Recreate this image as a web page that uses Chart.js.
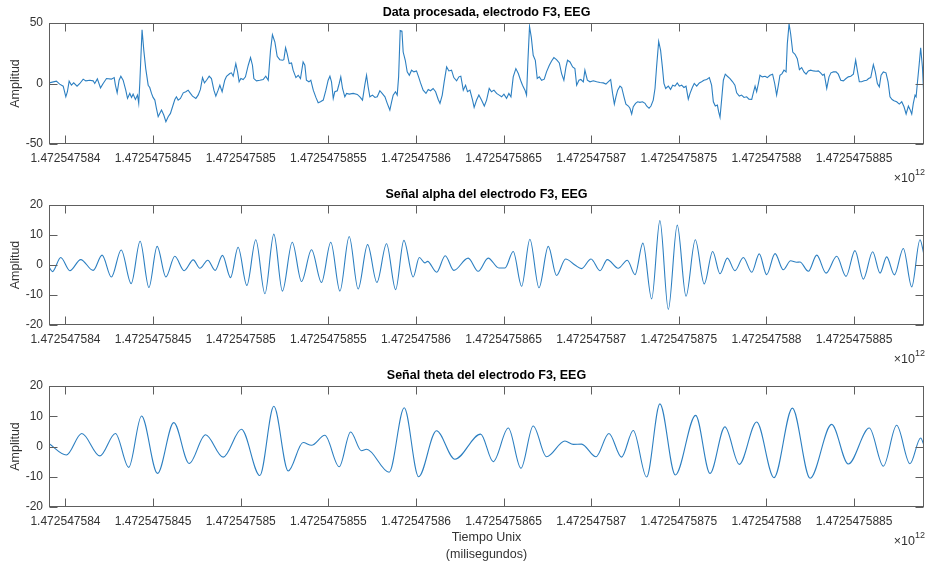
<!DOCTYPE html>
<html>
<head>
<meta charset="utf-8">
<script src="https://cdn.jsdelivr.net/npm/chart.js@4.4.1/dist/chart.umd.min.js"></script>
<style>
  body { margin: 0; background: #fff; }
  canvas { position: absolute; left: 0; }
</style>
</head>
<body>
<canvas id="cruda" width="925" height="185" style="top:0px"></canvas>
<canvas id="alpha" width="925" height="180" style="top:185px"></canvas>
<canvas id="theta" width="925" height="197" style="top:365px"></canvas>
<script>
// tiempo base (ms unix) del primer tick
const T0 = 1472547584000;
const xMin = T0 - 94;
const xMax = T0 + 4899;
const ticksTiempo = [0, 500, 1000, 1500, 2000, 2500, 3000, 3500, 4000, 4500];

// Data procesada (ms desde T0, amplitud)
const tCruda = [-93, -52, -33, -13, 2, 11, 21, 34, 47, 66, 82, 101, 116, 139, 158, 167, 182, 200, 215, 234, 262, 278, 285, 295, 306, 316, 329, 344, 354, 367, 377, 386, 399, 411, 418, 424, 437, 447, 458, 472, 481, 491, 500, 510, 519, 529, 538, 548, 561, 573, 586, 599, 611, 624, 633, 643, 656, 672, 687, 700, 713, 725, 744, 757, 770, 782, 793, 805, 820, 833, 847, 858, 871, 881, 894, 909, 919, 938, 947, 957, 972, 982, 991, 1001, 1014, 1027, 1043, 1056, 1067, 1075, 1090, 1109, 1128, 1143, 1157, 1170, 1181, 1195, 1208, 1223, 1239, 1246, 1256, 1265, 1277, 1290, 1299, 1315, 1328, 1341, 1356, 1366, 1375, 1389, 1400, 1414, 1429, 1442,
  1455, 1471, 1486, 1499, 1509, 1518, 1528, 1537, 1551, 1562, 1571, 1581, 1594, 1604, 1619, 1642, 1665, 1680, 1695, 1708, 1718, 1727, 1737, 1752, 1766, 1779, 1794, 1807, 1823, 1836, 1851, 1861, 1870, 1883, 1893, 1901, 1910, 1920, 1927, 1939, 1950, 1962, 1975, 1988, 2003, 2015, 2026, 2041, 2057, 2070, 2083, 2098, 2112, 2127, 2137, 2150, 2161, 2175, 2188, 2203, 2216, 2232, 2245, 2256, 2270, 2283, 2294, 2308, 2323, 2332, 2346, 2359, 2374, 2390, 2403, 2418, 2431, 2445, 2460, 2475, 2489, 2502, 2517, 2530, 2542, 2555, 2570, 2584, 2597, 2608, 2622, 2631, 2639, 2648, 2658, 2669, 2681, 2692, 2704, 2717, 2732, 2745, 2761, 2774, 2787, 2802, 2818, 2831, 2844, 2856, 2865, 2879, 2894, 2907, 2917, 2930, 2941, 2955, 2964, 2978, 2993, 3012, 3031, 3050,
  3069, 3084, 3097, 3111, 3122, 3132, 3141, 3151, 3164, 3174, 3187, 3198, 3212, 3221, 3231, 3240, 3253, 3265, 3278, 3293, 3307, 3316, 3330, 3341, 3354, 3364, 3373, 3385, 3396, 3406, 3415, 3425, 3440, 3453, 3465, 3478, 3491, 3503, 3516, 3529, 3541, 3554, 3564, 3577, 3588, 3602, 3617, 3630, 3643, 3659, 3674, 3687, 3697, 3708, 3720, 3727, 3735, 3744, 3754, 3765, 3777, 3792, 3807, 3820, 3830, 3845, 3858, 3872, 3887, 3900, 3916, 3925, 3935, 3944, 3954, 3963, 3976, 3992, 4005, 4020, 4035, 4047, 4058, 4068, 4077, 4089, 4100, 4112, 4119, 4129, 4138, 4150, 4163, 4176, 4188, 4201, 4214, 4226, 4239, 4252, 4268, 4283, 4296, 4309, 4321, 4330, 4344, 4357, 4368, 4382, 4397, 4410, 4424, 4439, 4454, 4467, 4481, 4496, 4509, 4519, 4530, 4543, 4557, 4572, 4583, 4595, 4610, 4621, 4633, 4644, 4654, 4667, 4682, 4694, 4705, 4717, 4728, 4743, 4758, 4772, 4785, 4797, 4810, 4819, 4829, 4838, 4848, 4854, 4861, 4871, 4880, 4890, 4899];
const vCruda = [0.5, 1.9, -0.5, -2.2, -11, -6.8, 1.9, -1.4, 0.5, -2.2, 0, 3.6, 2.2, 2.7, 2.2, 0, 3.8, -3.6, 0, 4.1, 3.6, 4.9, -1.4, -7.7, 2.7, 6.0, 2.7, -5.5, -12.3, -8.2, -11.5, -8.8, -13.2, -9.6, -16.4, 0, 44.4, 27.4, 12.3, -1.4, -3.3, -8.2, -11.5, -13.7, -20.5, -27.4, -24.7, -21.9, -26, -31.5, -27.4, -24.7, -19.2, -13.2, -11, -13.7, -12.3, -7.7, -6.8, -5.5, -8.2, -10.4, -12.3, -9.6, -4.9, 4.9, 0.5, 2.7, 6.0, 4.1, -5.5, -10.4, -5.5, -1.4, -6.8, 2.7, 6.0, 8.2, 8.8, 6.0, 16.4, 9.6, 1.4, 4.1, 3.3, 5.5, 15.1, 21.4, 15.1, 4.1, 2.2, 2.7, 3.3, 6.0, 2.7, 27.4, 40.3, 34.2, 22.5, 19.7, 19.2, 19.7, 29.6, 24.7, 16.4, 16.9, 11, 4.9, 6.8, 4.1, 17.8, 15.1, 2.7, 1.4, 2.7, -5.5, -11.5, -15.9,
  -15.1, -13.7, -5.5, 2.7, 6.0, 1.4, -12.3, -6.8, -6.0, 0, 5.5, -4.1, -11, -8.2, -8.8, -8.2, -9.0, -11, -13.7, -1.4, 6.8, -2.7, -11, -9.6, -11.5, -11, -6.0, -8.2, -11, -16.4, -21.9, -15.1, -9.6, -6.8, -9.6, 5.5, 43.8, 43.3, 26, 19.2, 9.6, 6.8, 11, 9.6, 10.4, 5.5, 0.5, -5.5, -8.2, -4.9, -6.0, -4.1, -6.8, -13.2, -16.4, -9.6, 1.4, 13.7, 10.4, 11, 4.9, 2.2, 5.5, 6.0, -5.5, -1.4, -6.8, -5.5, -13.7, -19.7, -13.7, -9.6, -13.7, -18.6, -13.7, -4.1, -6.8, -5.5, -8.2, -9.6, -11, -8.8, -12.3, -8.2, -11, 5.5, 12.3, 8.2, 2.7, -1.4, -5.5, -9.6, 19.2, 47.1, 38.4, 23.3, 19.2, 4.1, 5.5, 2.7, 3.6, 9.6, 15.1, 18.6, 21.4, 19.7, 17, 8.2, 2.7, 13.7, 19.2, 17.8, 13.7, 12.3, -1.4, 2.7, 3.3, 1.4, 11, 2.7, 1.4, 2.2, 1.4, 0.8,
  0.5, -0.5, 1.4, 3.3, -8.2, -17, -11, -5.5, -2.2, -3.3, -11, -17, -18.6, -20.5, -25.2, -19.2, -16.4, -15.1, -15.6, -15.1, -16.4, -18.6, -20.5, -18.6, -13.7, -4.1, 13.7, 34.8, 27.4, 13.7, 0, -4.1, -2.2, -4.9, -1.4, -2.2, 0.5, -2.2, -1.4, -3.3, -2.2, -12.9, -8.2, -3.3, 0, -2.2, 0.5, 1.4, 2.7, 3.3, 4.9, -1.4, -15.1, -18.6, -17.8, -23.3, -27.9, -13.7, 2.7, 7.7, 6.0, 4.1, 1.4, -1.4, -7.7, -10.4, -9.6, -11.5, -11, -12.9, -13.2, -7.7, -2.2, -6.8, 0, 6.8, 5.5, 6.0, 4.9, 6.8, 7.7, 0, -9.6, -1.4, 6.8, 8.2, 11, 9.6, 32.9, 49.3, 41.1, 26, 24.1, 20.5, 11.5, 13.2, 9.6, 7.7, 10.4, 11, 10.4, 10.1, 10.4, 8.8, 6.8, 7.7, -4.1, 5.5, 8.8, 9.6, 9.6, 7.7, 2.7, 2.2, 4.1, 5.5, 6.0, 7.7, 19.2, 10.4, 1.4, 1.4, 2.2, 2.7, 4.1, 4.9, 15.6, 9.6, 0, -2.7, 6.8, 9.6, 8.8, 1.4, -11, -13.2, -14.2, -15.1, -17, -15.1, -19.2, -25.2, -18.6, -21.4, -25.2, -16.4, -9.6, -11, 0, 15.1, 29.6, 13.7, -13.7];

// Señal alpha: picos y valles leidos
const tAlpha = [-93, -74, -27, 25, 87, 158, 209, 262, 318, 375, 426, 476, 523, 573, 624, 677, 729, 767, 812, 854, 896, 942, 985, 1035, 1086, 1138, 1189, 1238, 1294, 1347, 1404,
  1461, 1514, 1566, 1619, 1670, 1724, 1777, 1832, 1884, 1931, 1984, 2019, 2051, 2066, 2118, 2167, 2216, 2298, 2355, 2412, 2473, 2508, 2555, 2603, 2650, 2702, 2755, 2802, 2854, 2907, 2945, 2999, 3050,
  3092, 3154, 3206, 3250, 3295, 3345, 3392, 3440, 3491, 3541, 3594, 3645, 3693, 3735, 3777, 3820, 3868, 3916, 3959, 4001, 4049, 4096, 4138, 4172, 4191, 4239, 4287, 4340, 4401, 4454, 4505, 4553, 4606, 4648, 4686, 4730, 4781, 4829, 4876, 4899];
const vAlpha = [-0.7, -2.2, 2.5, -1.9, 1.8, -1.8, 3.3, -4.0, 5.0, -6.2, 7.9, -7.5, 6.2, -4.0, 2.9, -1.9, 1.7, -1.1, 1.6, -1.8, 3.2, -4.2, 5.9, -6.8, 8.4, -9.6, 10.3, -8.7, 7.6, -5.5, 5.1,
  -5.8, 7.6, -8.7, 9.5, -8.0, 6.8, -5.8, 7.1, -8.2, 8.2, -4.0, 2.5, 0.7, 1.2, -2.4, 3.1, -1.8, 2.3, -2.1, 2.3, -1.0, -1.0, 4.5, -7.1, 8.6, -7.6, 6.2, -3.5, 2.0, 0.0, -1.2, 2.0, -1.9,
  1.8, -1.1, 1.6, -3.2, 7.3, -11.3, 14.8, -14.8, 13.3, -10.4, 8.4, -6.3, 4.5, -2.9, 2.3, -1.9, 2.5, -2.4, 3.7, -3.2, 3.8, -1.6, 1.4, 0.9, 1.0, -2.1, 3.3, -2.7, 2.9, -3.8, 4.8, -4.7, 4.4, -2.7, 2.7, -3.3, 5.5, -7.3, 8.4, 3.4];

// Señal theta: picos y valles leidos
const tTheta = [-93, 5, 93, 196, 285, 361, 434, 525, 618, 706, 799, 900, 1004, 1109, 1189, 1271, 1356,
  1404, 1480, 1562, 1627, 1689, 1718, 1847, 1933, 2015, 2117, 2222, 2369, 2441, 2527, 2599, 2669, 2745, 2850, 2898, 2945, 3027,
  3101, 3173, 3240, 3316, 3392, 3480, 3596, 3678, 3763, 3845, 3944, 4043, 4148, 4249, 4372, 4467, 4587, 4667, 4743, 4819, 4880, 4899];
const vTheta = [0.9, -2.8, 4.3, -3.1, 4.3, -6.9, 10.1, -8.9, 7.9, -5.6, 3.9, -3.5, 5.7, -9.6, 13.3, -8.1, 1.3,
  0.4, 3.7, -6.7, 4.8, -1.4, -0.9, -8.5, 12.8, -10.0, 5.2, -4.2, 4.1, -5.0, 6.1, -7.2, 6.8, -3.4, 1.8, 0.7, 0.8, -3.4,
  4.3, -3.5, 5.3, -10.1, 14.1, -9.4, 10.3, -8.9, 6.5, -5.9, 8.1, -10.3, 12.7, -10.5, 7.3, -5.8, 6.1, -6.5, 7.0, -5.7, 2.8, 0.4];

const ticksY1 = [-50, 0, 50];
const ticksY2 = [-20, -10, 0, 10, 20];

const COLOR_LINEA = '#2c7fc1';
const COLOR_TEXTO = '#333333';
const COLOR_CAJA = '#5e5e5e';
const FUENTE = '"Liberation Sans", Arial, sans-serif';

Chart.defaults.font.family = FUENTE;

// cajas, ticks interiores, titulos y etiquetas al estilo matlab
const decorMatlab = {
  id: 'decorMatlab',
  afterDraw(chart, args, opts) {
    const { ctx, chartArea: a, scales } = chart;
    const L = Math.round(a.left) + 0.5, R = Math.round(a.right) - 0.5;
    const T = Math.round(a.top) + 0.5, B = Math.round(a.bottom) - 0.5;
    ctx.save();
    ctx.strokeStyle = COLOR_CAJA;
    ctx.lineWidth = 1;
    ctx.strokeRect(L, T, R - L, B - T);
    ctx.beginPath();
    const lt = 8;
    scales.x.ticks.forEach((tk) => {
      const px = Math.round(scales.x.getPixelForValue(tk.value)) + 0.5;
      ctx.moveTo(px, B); ctx.lineTo(px, B - lt);
      ctx.moveTo(px, T); ctx.lineTo(px, T + lt);
    });
    scales.y.ticks.forEach((tk) => {
      const py = Math.round(scales.y.getPixelForValue(tk.value)) + 0.5;
      ctx.moveTo(L, py); ctx.lineTo(L + lt, py);
      ctx.moveTo(R, py); ctx.lineTo(R - lt, py);
    });
    ctx.stroke();

    const cx = (a.left + a.right) / 2;
    ctx.fillStyle = '#000';
    ctx.textAlign = 'center';
    ctx.textBaseline = 'middle';
    ctx.font = 'bold 12.5px ' + FUENTE;
    ctx.fillText(opts.titulo, cx, a.top - 10);

    ctx.fillStyle = COLOR_TEXTO;
    ctx.font = '12.5px ' + FUENTE;
    ctx.save();
    ctx.translate(16, (a.top + a.bottom) / 2);
    ctx.rotate(-Math.PI / 2);
    ctx.fillText('Amplitud', 0, 0);
    ctx.restore();

    (opts.etiquetaX || []).forEach((txt, i) => {
      ctx.fillText(txt, cx, a.bottom + 31 + i * 17);
    });

    // factor de escala del eje x
    ctx.textAlign = 'right';
    ctx.font = '12.5px ' + FUENTE;
    ctx.fillText('\u00d710', 915, a.bottom + 35);
    ctx.textAlign = 'left';
    ctx.font = '9px ' + FUENTE;
    ctx.fillText('12', 915, a.bottom + 29);
    ctx.restore();
  }
};

function formatoTiempo(v) {
  const s = String(Math.round(v));
  return (s[0] + '.' + s.slice(1)).replace(/0+$/, '');
}

function crearPanel(id, tiempos, valores, cfg) {
  const puntos = tiempos.map((t, i) => ({ x: T0 + t, y: valores[i] }));
  return new Chart(document.getElementById(id), {
    type: 'line',
    data: {
      datasets: [{
        data: puntos,
        borderColor: COLOR_LINEA,
        borderWidth: 1.1,
        pointRadius: 0,
        fill: false,
        tension: 0,
        cubicInterpolationMode: cfg.suave ? 'monotone' : 'default',
      }],
    },
    options: {
      responsive: false,
      animation: false,
      devicePixelRatio: 1,
      layout: {
        autoPadding: false,
        padding: { top: cfg.arriba, right: 1, left: 0, bottom: 0 },
      },
      plugins: {
        legend: { display: false },
        tooltip: { enabled: false },
        decorMatlab: { titulo: cfg.titulo, etiquetaX: cfg.etiquetaX },
      },
      scales: {
        x: {
          type: 'linear',
          min: xMin,
          max: xMax,
          grid: { display: false, drawTicks: false },
          border: { display: false },
          afterBuildTicks: (s) => { s.ticks = ticksTiempo.map((t) => ({ value: T0 + t })); },
          afterFit: (s) => { s.height = cfg.altoX; },
          ticks: {
            callback: formatoTiempo,
            autoSkip: false,
            maxRotation: 0,
            padding: 7,
            color: COLOR_TEXTO,
            font: { size: 12 },
          },
        },
        y: {
          min: cfg.ticksY[0],
          max: cfg.ticksY[cfg.ticksY.length - 1],
          grid: { display: false, drawTicks: false },
          border: { display: false },
          afterBuildTicks: (s) => { s.ticks = cfg.ticksY.map((v) => ({ value: v })); },
          afterFit: (s) => { s.width = 49; },
          ticks: {
            padding: 6,
            color: COLOR_TEXTO,
            font: { size: 12 },
          },
        },
      },
    },
    plugins: [decorMatlab],
  });
}

crearPanel('cruda', tCruda, vCruda, {
  titulo: 'Data procesada, electrodo F3, EEG', arriba: 23, altoX: 41, ticksY: ticksY1, suave: false,
});
crearPanel('alpha', tAlpha, vAlpha, {
  titulo: 'Se\u00f1al alpha del electrodo F3, EEG', arriba: 20, altoX: 40, ticksY: ticksY2, suave: true,
});
crearPanel('theta', tTheta, vTheta, {
  titulo: 'Se\u00f1al theta del electrodo F3, EEG', arriba: 21, altoX: 55, ticksY: ticksY2, suave: true,
  etiquetaX: ['Tiempo Unix', '(milisegundos)'],
});
</script>
</body>
</html>
